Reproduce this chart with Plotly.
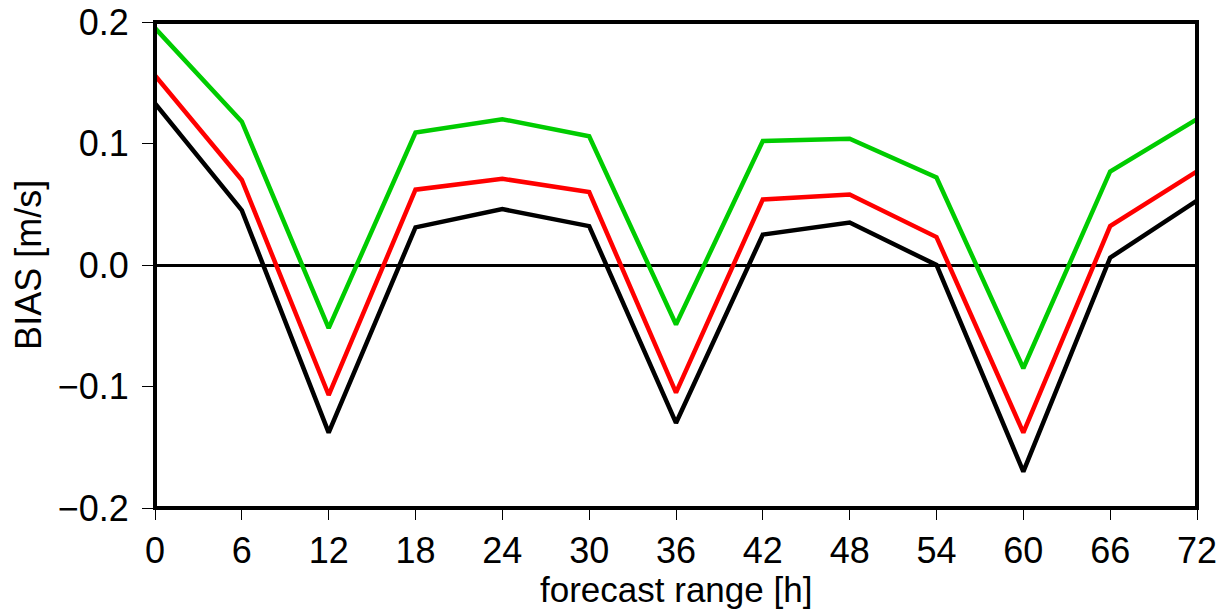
import plotly.graph_objects as go

hours = [0, 6, 12, 18, 24, 30, 36, 42, 48, 54, 60, 66, 72]
green_vals = [0.195, 0.118, -0.052, 0.109, 0.120, 0.106, -0.049, 0.102, 0.104, 0.072, -0.085, 0.077, 0.120]
red_vals = [0.156, 0.070, -0.107, 0.062, 0.071, 0.060, -0.105, 0.054, 0.058, 0.023, -0.138, 0.032, 0.077]
black_vals = [0.133, 0.045, -0.138, 0.031, 0.046, 0.032, -0.130, 0.025, 0.035, 0.000, -0.170, 0.006, 0.053]
y_ticks = [-0.2, -0.1, 0.0, 0.1, 0.2]
y_labels = ["\u22120.2", "\u22120.1", "0.0", "0.1", "0.2"]
x_title = "forecast range [h]"
y_title = "BIAS [m/s]"

fig = go.Figure()
for vals, col in [(black_vals, "black"), (red_vals, "rgb(255,0,0)"), (green_vals, "rgb(0,204,0)")]:
    fig.add_trace(go.Scatter(x=hours, y=vals, mode="lines",
                             line=dict(color=col, width=4.5), showlegend=False))

font = dict(family="Liberation Sans, Arial, Helvetica, sans-serif", size=36, color="black")
title_font = dict(family="Liberation Sans, Arial, Helvetica, sans-serif", size=35, color="black")
fig.update_layout(
    width=1228, height=610,
    margin=dict(l=155, r=31, t=22, b=102),
    paper_bgcolor="white", plot_bgcolor="white",
    font=font,
    xaxis=dict(range=[0, 72], tickvals=hours, ticks="outside", ticklen=11, tickwidth=1.2,
               tickcolor="black", showgrid=False, zeroline=False, automargin=False,
               tickfont=font, ticklabelstandoff=0),
    yaxis=dict(range=[-0.2, 0.2], tickvals=y_ticks, ticktext=y_labels, ticks="outside",
               ticklen=12, tickwidth=1.2, tickcolor="black", showgrid=False,
               zeroline=True, zerolinecolor="black", zerolinewidth=2.5, automargin=False,
               tickfont=font, ticklabelstandoff=6),
    shapes=[dict(type="rect", xref="paper", yref="paper", x0=0, y0=0, x1=1, y1=1,
                 line=dict(color="black", width=4), layer="above")],
    annotations=[
        dict(text=x_title, xref="paper", yref="paper", x=0.5, y=-0.2099,
             xanchor="center", yanchor="bottom", showarrow=False, font=title_font,
             borderpad=0),
        dict(text=y_title, xref="paper", yref="paper", x=-0.122, y=0.5, textangle=-90,
             xanchor="center", yanchor="middle", showarrow=False, font=font),
    ],
)
fig.write_html("out.html", config={"displayModeBar": False},
               post_script="document.body.style.margin='0';document.body.style.overflow='hidden';")
